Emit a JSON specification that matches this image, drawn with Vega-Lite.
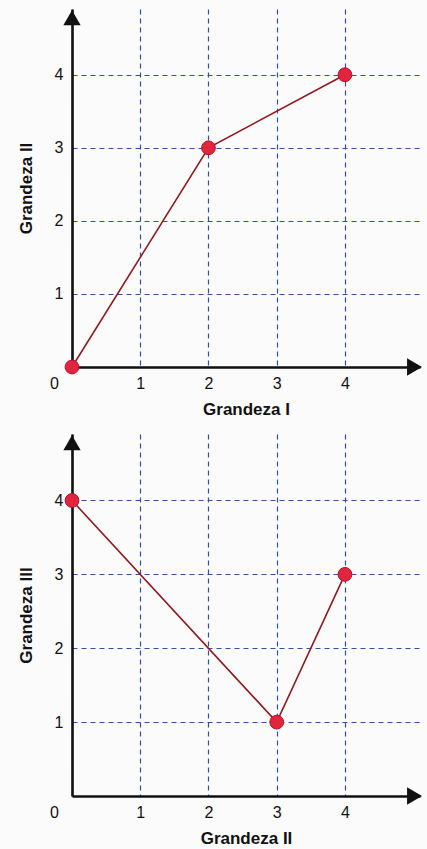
{
  "$schema": "https://vega.github.io/schema/vega-lite/v6.json",
  "background": "#fcfbfc",
  "padding": {"left": 17, "top": 9, "right": 5, "bottom": 5},
  "spacing": 17,
  "datasets": {
    "g1": [
      {"x": 0, "y": 0},
      {"x": 2, "y": 3},
      {"x": 4, "y": 4}
    ],
    "g2": [
      {"x": 0, "y": 4},
      {"x": 3, "y": 1},
      {"x": 4, "y": 3}
    ],
    "arrows": [
      {"x": 5.02, "y": 0, "dir": "right"},
      {"x": 0, "y": 4.78, "dir": "up"}
    ]
  },
  "vconcat": [
    {
      "width": 348,
      "height": 358,
      "layer": [
        {
          "data": {"name": "g1"},
          "mark": {"type": "line", "color": "#8e1b22", "strokeWidth": 1.6},
          "encoding": {
            "x": {
              "field": "x", "type": "quantitative",
              "scale": {"domain": [0, 5.1], "nice": false, "zero": false},
              "axis": {
                "title": "Grandeza I", "values": [0, 1, 2, 3, 4], "format": "d",
                "labelOffset": {"condition": {"test": "datum.value === 0", "value": -18}, "value": 0}
              }
            },
            "y": {
              "field": "y", "type": "quantitative",
              "scale": {"domain": [0, 4.9], "nice": false, "zero": false},
              "axis": {"title": "Grandeza II", "values": [1, 2, 3, 4], "format": "d"}
            }
          }
        },
        {
          "data": {"name": "g1"},
          "mark": {"type": "point", "filled": true, "shape": "circle", "size": 190, "color": "#e2253f", "stroke": "#b0142c", "strokeWidth": 1, "opacity": 1},
          "encoding": {
            "x": {"field": "x", "type": "quantitative"},
            "y": {"field": "y", "type": "quantitative"}
          }
        },
        {
          "data": {"name": "arrows"},
          "mark": {"type": "point", "filled": true, "size": 300, "color": "#111111", "opacity": 1},
          "encoding": {
            "x": {"field": "x", "type": "quantitative"},
            "y": {"field": "y", "type": "quantitative"},
            "shape": {"field": "dir", "type": "nominal", "scale": {"domain": ["right", "up"], "range": ["triangle-right", "triangle-up"]}, "legend": null}
          }
        }
      ]
    },
    {
      "width": 348,
      "height": 362,
      "layer": [
        {
          "data": {"name": "g2"},
          "mark": {"type": "line", "color": "#8e1b22", "strokeWidth": 1.6},
          "encoding": {
            "x": {
              "field": "x", "type": "quantitative",
              "scale": {"domain": [0, 5.1], "nice": false, "zero": false},
              "axis": {
                "title": "Grandeza II", "values": [0, 1, 2, 3, 4], "format": "d",
                "labelOffset": {"condition": {"test": "datum.value === 0", "value": -18}, "value": 0}
              }
            },
            "y": {
              "field": "y", "type": "quantitative",
              "scale": {"domain": [0, 4.9], "nice": false, "zero": false},
              "axis": {"title": "Grandeza III", "values": [1, 2, 3, 4], "format": "d"}
            }
          }
        },
        {
          "data": {"name": "g2"},
          "mark": {"type": "point", "filled": true, "shape": "circle", "size": 190, "color": "#e2253f", "stroke": "#b0142c", "strokeWidth": 1, "opacity": 1},
          "encoding": {
            "x": {"field": "x", "type": "quantitative"},
            "y": {"field": "y", "type": "quantitative"}
          }
        },
        {
          "data": {"name": "arrows"},
          "mark": {"type": "point", "filled": true, "size": 300, "color": "#111111", "opacity": 1},
          "encoding": {
            "x": {"field": "x", "type": "quantitative"},
            "y": {"field": "y", "type": "quantitative"},
            "shape": {"field": "dir", "type": "nominal", "scale": {"domain": ["right", "up"], "range": ["triangle-right", "triangle-up"]}, "legend": null}
          }
        }
      ]
    }
  ],
  "config": {
    "view": {"stroke": null},
    "font": "Liberation Sans",
    "axis": {
      "domainColor": "#111111",
      "domainWidth": 2.6,
      "ticks": false,
      "grid": true,
      "gridColor": "#33529e",
      "gridDash": [5, 4],
      "gridWidth": 1.2,
      "labelFont": "Liberation Sans",
      "labelFontSize": 16,
      "labelColor": "#111111",
      "titleFont": "Liberation Sans",
      "titleFontSize": 17,
      "titleFontWeight": "bold",
      "titleColor": "#111111"
    },
    "axisX": {
      "labelPadding": 8,
      "titlePadding": 10,
      "labelFlush": false
    },
    "axisY": {
      "labelPadding": 9,
      "titlePadding": 19
    }
  }
}
